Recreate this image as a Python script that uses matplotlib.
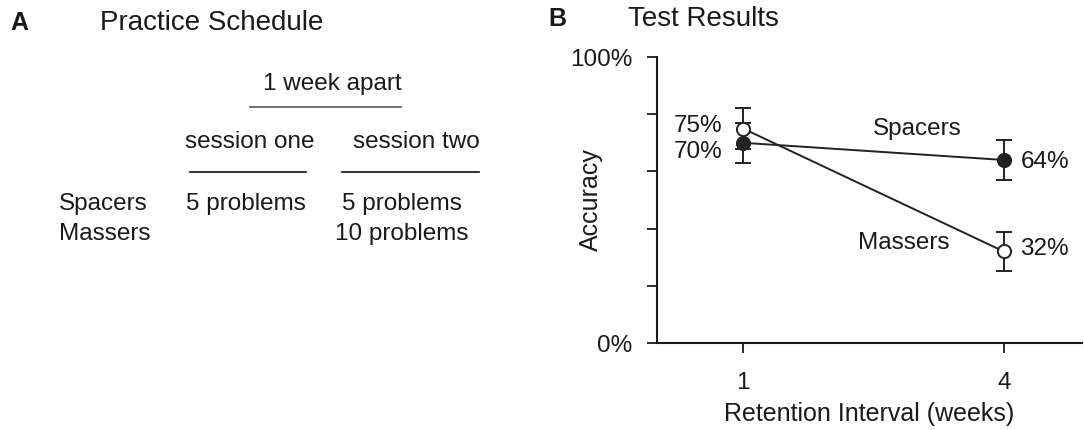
import matplotlib
matplotlib.use("Agg")
import matplotlib.pyplot as plt
from matplotlib.lines import Line2D

plt.rcParams['font.family'] = ['Liberation Sans', 'DejaVu Sans']

# Test results (accuracy, %)
weeks = [1, 4]
week_labels = ["1", "4"]
spacers = [70, 64]
spacers_err = [7, 7]
massers = [75, 32]
massers_err = [7, 6.7]

# Practice schedule table
groups = ["Spacers", "Massers"]
session_one = ["5 problems", ""]
session_two = ["5 problems", "10 problems"]

W, H = 1084, 430
fig = plt.figure(figsize=(W / 100, H / 100), dpi=100)
ink = "#1a1a1a"


def fx(px):
    return px / W


def fy(py):
    return 1 - py / H


def ftext(x, y, s, **kw):
    kw.setdefault("color", ink)
    kw.setdefault("fontsize", 17.5)
    kw.setdefault("va", "center")
    fig.text(fx(x), fy(y), s, **kw)


def fline(x0, x1, y, color="#333333", lw=1.3):
    fig.add_artist(Line2D([fx(x0), fx(x1)], [fy(y), fy(y)],
                          transform=fig.transFigure, color=color, lw=lw))


# ---- Panel A: practice schedule ----
ftext(10, 23, "A", fontsize=18, fontweight="bold", ha="left")
ftext(100, 23, "Practice Schedule", fontsize=20, ha="left")

ftext(332, 84, "1 week apart", ha="center")
fline(250, 401, 107, color="#666666")
ftext(250, 142, "session one", ha="center")
fline(190, 306, 172, color="#222222")
ftext(416, 142, "session two", ha="center")
fline(342, 479, 172, color="#222222")

row_y = [204, 234]
for gy, g, s1, s2 in zip(row_y, groups, session_one, session_two):
    ftext(59, gy, g, ha="left")
    if s1:
        ftext(246, gy, s1, ha="center")
    ftext(402, gy, s2, ha="center")

# ---- Panel B: test results ----
ftext(548, 19, "B", fontsize=18, fontweight="bold", ha="left")
ftext(628, 19, "Test Results", fontsize=20, ha="left")

ax = fig.add_axes([fx(657), 1 - 343 / H, fx(1082) - fx(657), (343 - 57) / H])
line_col = "#222222"
ax.errorbar(weeks, spacers, yerr=spacers_err, color=line_col, lw=1.4,
            marker="o", markersize=9.5, markerfacecolor=line_col,
            markeredgecolor=line_col, markeredgewidth=1.4,
            capsize=6, capthick=1.4, elinewidth=1.4, zorder=3)
ax.errorbar(weeks, massers, yerr=massers_err, color=line_col, lw=1.4,
            marker="o", markersize=9.5, markerfacecolor="white",
            markeredgecolor=line_col, markeredgewidth=1.4,
            capsize=6, capthick=1.4, elinewidth=1.4, zorder=4)

ax.set_xlim(0.01, 4.9)
ax.set_ylim(0, 100)
ax.set_yticks([0, 20, 40, 60, 80, 100])
ax.set_yticklabels(["0%", "", "", "", "", "100%"])
ax.set_xticks(weeks)
ax.set_xticklabels(week_labels)
for side in ["top", "right"]:
    ax.spines[side].set_visible(False)
for side in ["left", "bottom"]:
    ax.spines[side].set_linewidth(1.5)
    ax.spines[side].set_color(ink)
ax.tick_params(axis="both", colors=ink, labelcolor=ink, labelsize=17.5,
               width=1.3, length=7)
ax.tick_params(axis="y", pad=11)
ax.tick_params(axis="x", pad=14)
ax.set_xlabel("Retention Interval (weeks)", fontsize=18, color=ink, labelpad=6)
ax.set_ylabel("Accuracy", fontsize=18, color=ink)
ax.yaxis.set_label_coords(-0.128, 0.503)

# value labels
ax.annotate(f"{massers[0]}%", (weeks[0], massers[0]), xytext=(-45, 2),
            textcoords="offset pixels", ha="center", va="center",
            fontsize=17.5, color=ink)
ax.annotate(f"{spacers[0]}%", (weeks[0], spacers[0]), xytext=(-45, -9),
            textcoords="offset pixels", ha="center", va="center",
            fontsize=17.5, color=ink)
ax.annotate(f"{spacers[1]}%", (weeks[1], spacers[1]), xytext=(41, -2),
            textcoords="offset pixels", ha="center", va="center",
            fontsize=17.5, color=ink)
ax.annotate(f"{massers[1]}%", (weeks[1], massers[1]), xytext=(41, 2),
            textcoords="offset pixels", ha="center", va="center",
            fontsize=17.5, color=ink)

ax.text(3.0, 75.0, "Spacers", ha="center", va="center", fontsize=17.5, color=ink)
ax.text(2.85, 35.0, "Massers", ha="center", va="center", fontsize=17.5, color=ink)

fig.savefig("out.png", dpi=100)
